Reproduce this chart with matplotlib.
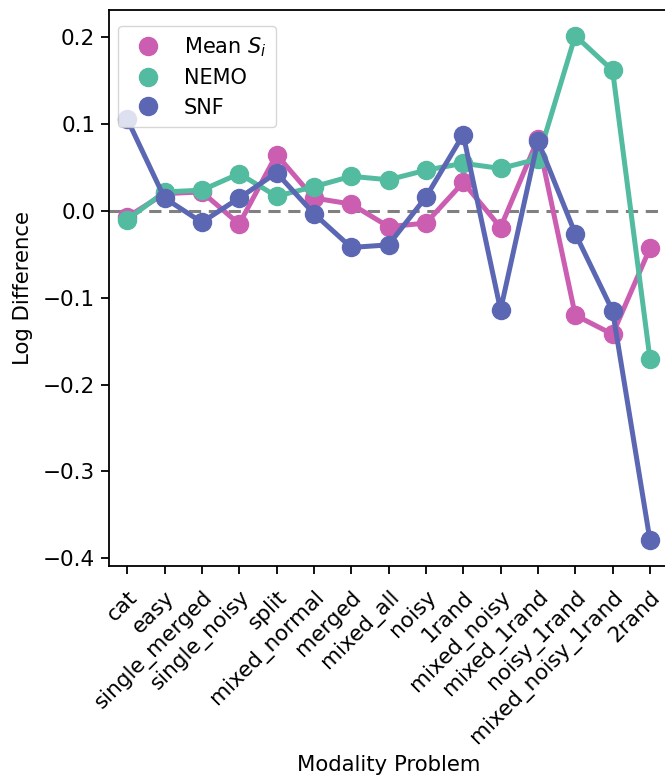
import matplotlib
matplotlib.use("Agg")
import matplotlib.pyplot as plt
from matplotlib.lines import Line2D

categories = ["cat", "easy", "single_merged", "single_noisy", "split", "mixed_normal",
              "merged", "mixed_all", "noisy", "1rand", "mixed_noisy", "mixed_1rand",
              "noisy_1rand", "mixed_noisy_1rand", "2rand"]
mean_si = [-0.007, 0.020, 0.022, -0.015, 0.065, 0.015, 0.008, -0.018, -0.014, 0.033,
           -0.019, 0.083, -0.120, -0.142, -0.043]
nemo = [-0.010, 0.022, 0.024, 0.043, 0.017, 0.028, 0.040, 0.036, 0.047, 0.055,
        0.049, 0.060, 0.202, 0.162, -0.170]
snf = [0.106, 0.015, -0.013, 0.015, 0.044, -0.003, -0.042, -0.039, 0.016, 0.088,
       -0.114, 0.081, -0.026, -0.115, -0.379]
series_names = ["Mean $S_i$", "NEMO", "SNF"]
colors = ["#cc5eb2", "#53bb9f", "#5b67b3"]

fig = plt.figure(figsize=(6.65, 7.81), dpi=100)
ax_w = (668.6 - 108.5) / 665
ax = fig.add_axes([108.5 / 665, 1 - 566 / 781, ax_w, (566 - 10) / 781])

x = list(range(len(categories)))
ax.axhline(0, color="gray", ls="--", lw=2.2, dashes=(4, 2.5), zorder=1)
for vals, c in zip([mean_si, nemo, snf], colors):
    ax.plot(x, vals, color=c, lw=3.6, marker="o", ms=13, zorder=2)

ax.set_xlim(-0.5, len(categories) - 0.5)
ax.set_ylim(-0.409, 0.2316)
ax.set_xticks(x)
ax.set_xticklabels(categories, rotation=45, ha="right", rotation_mode="anchor", fontsize=15.5)
ax.set_yticks([0.2, 0.1, 0.0, -0.1, -0.2, -0.3, -0.4])
ax.set_yticklabels(["0.2", "0.1", "0.0", "\u22120.1", "\u22120.2", "\u22120.3", "\u22120.4"])
ax.tick_params(axis="both", labelsize=15.5, length=6, width=1.3)
ax.tick_params(axis="x", pad=9)
for s in ax.spines.values():
    s.set_linewidth(1.3)
ax.set_xlabel("Modality Problem", fontsize=15.3, labelpad=5)
ax.set_ylabel("Log Difference", fontsize=15.3, labelpad=7)

handles = [Line2D([], [], color=c, marker="o", ls="none", ms=13) for c in colors]
ax.legend(handles, series_names, loc="upper left", fontsize=15, framealpha=0.8,
          bbox_to_anchor=(9.5 / 560.1, 1 - 16 / 556), borderaxespad=0,
          handletextpad=0.7, borderpad=0.45, labelspacing=0.45)

fig.savefig("out.png", dpi=100)
